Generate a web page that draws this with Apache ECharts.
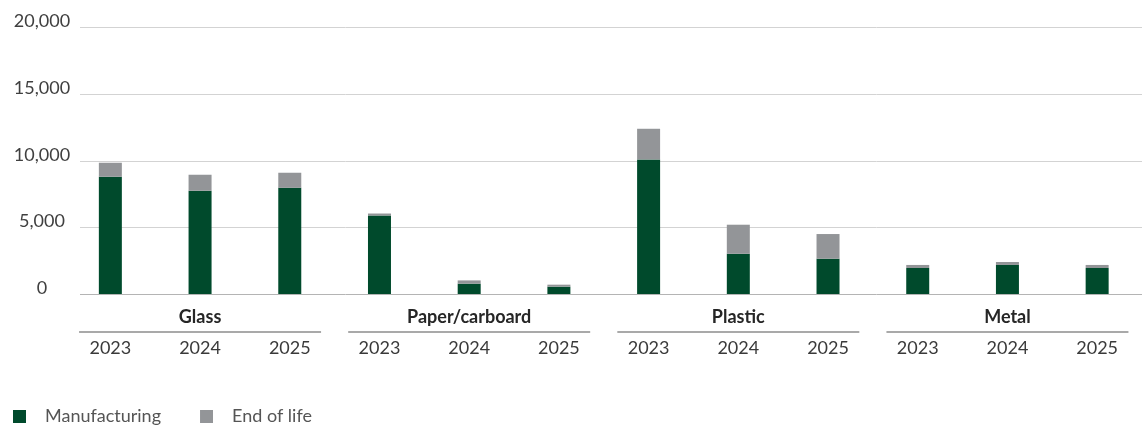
<!DOCTYPE html>
<html>
<head>
<meta charset="utf-8">
<script src="https://cdn.jsdelivr.net/npm/echarts@6/dist/echarts.min.js"></script>
<style>
  html, body { margin: 0; padding: 0; background: #ffffff; }
  #chart { width: 1142px; height: 428px; }
</style>
</head>
<body>
<div id="chart"></div>
<script>
// Packaging emissions by material and year
const materials = ['Glass', 'Paper/carboard', 'Plastic', 'Metal'];
const years = ['2023', '2024', '2025'];
const yTicks = [0, 5000, 10000, 15000, 20000];

const manufacturing = [8800, 7750, 7970, 5890, 775, 550, 10100, 3020, 2650, 1950, 2180, 1950];
const endOfLife = [1050, 1200, 1130, 150, 245, 150, 2300, 2180, 1850, 230, 220, 230];

const categories = [];
materials.forEach(function () { years.forEach(function (y) { categories.push(y); }); });

const GREEN = '#004a2c';
const GREY = '#939598';
const FONT = 'Lato, "Open Sans", sans-serif';

const chart = echarts.init(document.getElementById('chart'), null, { renderer: 'canvas' });

const yMin = yTicks[0];
const yMax = yTicks[yTicks.length - 1];
const yStep = yTicks[1] - yTicks[0];

chart.setOption({
  animation: false,
  backgroundColor: '#ffffff',
  grid: [
    // bars
    { left: 65.5, width: 1078, top: 27.5, bottom: 134, containLabel: false },
    // gridlines and value labels
    { left: 80, right: 0, top: 27.5, bottom: 134, containLabel: false }
  ],
  xAxis: [
    {
      type: 'category', gridIndex: 0, data: categories, position: 'bottom',
      axisLine: { show: false }, axisTick: { show: false },
      axisLabel: { margin: 44.5, fontFamily: FONT, fontSize: 18, lineHeight: 20, color: '#3a3a3a', interval: 0 }
    },
    {
      type: 'category', gridIndex: 0, data: materials, position: 'bottom',
      axisLine: { show: false }, axisTick: { show: false },
      axisLabel: { margin: 13, fontFamily: FONT, fontSize: 18, lineHeight: 20, fontWeight: 'bold', color: '#262626', interval: 0 }
    },
    { type: 'category', gridIndex: 1, data: [''], show: false }
  ],
  yAxis: [
    { type: 'value', gridIndex: 0, min: yMin, max: yMax, interval: yStep, show: false, splitLine: { show: false } },
    {
      type: 'value', gridIndex: 1, min: yMin, max: yMax, interval: yStep,
      axisLine: { show: false }, axisTick: { show: false },
      axisLabel: {
        margin: 38, align: 'center', fontFamily: FONT, fontSize: 18, color: '#404040',
        verticalAlign: 'bottom', lineHeight: 12,
        formatter: function (v) { return v.toLocaleString('en-US'); }
      },
      splitLine: { show: true, lineStyle: { color: ['#b4b4b4', '#d3d3d3', '#d3d3d3', '#d3d3d3', '#d3d3d3'], width: 1 } }
    }
  ],
  legend: {
    left: 13, top: 406.5, padding: 0,
    icon: 'rect', itemWidth: 13, itemHeight: 13, itemGap: 39,
    formatter: function (name) { return '{s|}{t|' + name + '}'; },
    textStyle: {
      fontFamily: FONT, fontSize: 18, lineHeight: 20, color: '#555555',
      rich: {
        s: { width: 14, lineHeight: 20 },
        t: { fontFamily: FONT, fontSize: 18, lineHeight: 20, color: '#555555' }
      }
    },
    data: ['Manufacturing', 'End of life']
  },
  series: [
    {
      name: 'Manufacturing', type: 'bar', stack: 'total', xAxisIndex: 0, yAxisIndex: 0,
      barWidth: 23, data: manufacturing, itemStyle: { color: GREEN }
    },
    {
      name: 'End of life', type: 'bar', stack: 'total', xAxisIndex: 0, yAxisIndex: 0,
      barWidth: 23, data: endOfLife, itemStyle: { color: GREY }
    },
    {
      // rule under each material name
      type: 'custom', xAxisIndex: 1, yAxisIndex: 0, clip: false, silent: true,
      data: materials.map(function (m, i) { return [i, 0]; }),
      renderItem: function (params, api) {
        const p = api.coord([api.value(0), 0]);
        const half = 121;
        return {
          type: 'line',
          shape: { x1: p[0] - half, y1: p[1] + 38, x2: p[0] + half, y2: p[1] + 38 },
          style: { stroke: '#8c8c8c', lineWidth: 1.5 }
        };
      }
    }
  ]
});
</script>
</body>
</html>
